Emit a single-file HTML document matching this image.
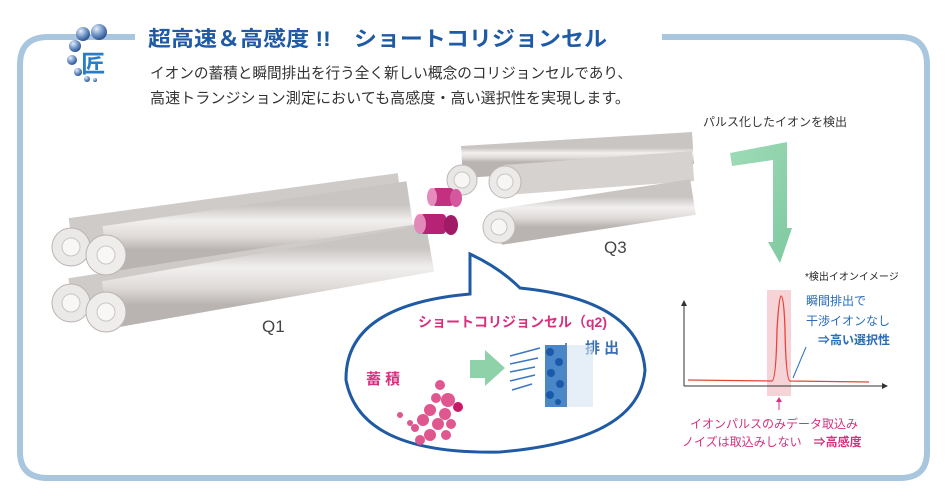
<!DOCTYPE html>
<html><head><meta charset="utf-8"><style>
body{margin:0;width:945px;height:494px;background:#fff;overflow:hidden;font-family:"Liberation Sans","Noto Sans CJK JP",sans-serif}
</style></head><body>
<svg width="945" height="494" viewBox="0 0 945 494" xmlns="http://www.w3.org/2000/svg" font-family="Liberation Sans, Noto Sans CJK JP, sans-serif">
<defs>
<linearGradient id="rod" x1="0" y1="0" x2="0" y2="1"><stop offset="0" stop-color="#c9c5c3"/><stop offset="0.35" stop-color="#f2f0ef"/><stop offset="0.7" stop-color="#dedad8"/><stop offset="1" stop-color="#b9b4b2"/></linearGradient>
<radialGradient id="ball" cx="0.35" cy="0.3" r="0.7"><stop offset="0" stop-color="#e6eef8"/><stop offset="0.5" stop-color="#7d9fcc"/><stop offset="1" stop-color="#2d5597"/></radialGradient>
<linearGradient id="grn" x1="0" y1="0" x2="1" y2="1"><stop offset="0" stop-color="#9fdcb8"/><stop offset="1" stop-color="#7fc9a0"/></linearGradient>
</defs>
<path d="M135 37 H48 Q20 37 20 65 V452 Q20 478 48 478 H900 Q927 478 927 452 V65 Q927 37 900 37 H662" fill="none" stroke="#a8c6de" stroke-width="6"/>
<circle cx="99" cy="32" r="8" fill="url(#ball)"/><circle cx="83" cy="34" r="7" fill="url(#ball)"/><circle cx="75" cy="46" r="6" fill="url(#ball)"/>
<circle cx="72" cy="60" r="5" fill="url(#ball)"/><circle cx="78" cy="72" r="4" fill="url(#ball)"/><circle cx="87" cy="79" r="3" fill="url(#ball)"/><circle cx="95" cy="80" r="2" fill="url(#ball)"/>
<text x="81" y="72" font-size="24" font-weight="bold" fill="#2a7cc4">匠</text>
<text x="148" y="46" font-size="21" font-weight="bold" fill="#1e5aa5" textLength="459" lengthAdjust="spacingAndGlyphs">超高速＆高感度 !!　ショートコリジョンセル</text>
<text x="150" y="78" font-size="14.8" fill="#333" textLength="482" lengthAdjust="spacingAndGlyphs">イオンの蓄積と瞬間排出を行う全く新しい概念のコリジョンセルであり、</text>
<text x="150" y="103" font-size="14.8" fill="#333" textLength="480" lengthAdjust="spacingAndGlyphs">高速トランジション測定においても高感度・高い選択性を実現します。</text>
<g>
<line x1="462" y1="162" x2="693" y2="148" stroke="url(#rod)" stroke-width="32"/>
<line x1="505" y1="180" x2="693" y2="166" stroke="#d6d2d0" stroke-width="30"/>
<line x1="499" y1="227" x2="693" y2="197" stroke="url(#rod)" stroke-width="36"/>
<circle cx="462" cy="180" r="15" fill="#e9e7e6" stroke="#bdb8b6"/><circle cx="462" cy="180" r="8" fill="#f7f6f5" stroke="#c9c5c3"/>
<circle cx="505" cy="182" r="16" fill="#eceae9" stroke="#bdb8b6"/><circle cx="505" cy="182" r="8" fill="#f7f6f5" stroke="#c9c5c3"/>
<circle cx="499" cy="227" r="16" fill="#eceae9" stroke="#bdb8b6"/><circle cx="499" cy="227" r="8" fill="#f7f6f5" stroke="#c9c5c3"/>
</g>
<line x1="71" y1="235" x2="400" y2="190" stroke="#cfcbc9" stroke-width="34"/>
<line x1="106" y1="250" x2="410" y2="205" stroke="url(#rod)" stroke-width="48"/>
<line x1="71" y1="295" x2="425" y2="240" stroke="#cfcbc9" stroke-width="34"/>
<line x1="106" y1="305" x2="430" y2="248" stroke="url(#rod)" stroke-width="48"/>
<circle cx="71" cy="247" r="19" fill="#ebe9e8" stroke="#b9b4b2"/><circle cx="71" cy="247" r="9" fill="#f8f7f6" stroke="#c9c5c3"/>
<circle cx="106" cy="255" r="20" fill="#efedec" stroke="#b9b4b2"/><circle cx="106" cy="255" r="9" fill="#f8f7f6" stroke="#c9c5c3"/>
<circle cx="71" cy="303" r="19" fill="#ebe9e8" stroke="#b9b4b2"/><circle cx="71" cy="303" r="9" fill="#f8f7f6" stroke="#c9c5c3"/>
<circle cx="106" cy="312" r="20" fill="#efedec" stroke="#b9b4b2"/><circle cx="106" cy="312" r="9" fill="#f8f7f6" stroke="#c9c5c3"/>
<rect x="432" y="188" width="22" height="18" rx="4" fill="#c2307f"/><ellipse cx="432" cy="197" rx="5" ry="9" fill="#e58bbd"/><ellipse cx="456" cy="198" rx="6" ry="9" fill="#d4589c"/>
<rect x="420" y="214" width="26" height="20" rx="4" fill="#b62374"/><ellipse cx="420" cy="224" rx="6" ry="10" fill="#e389ba"/><ellipse cx="451" cy="225" rx="7" ry="10" fill="#a01a65"/>
<text x="262" y="332" font-size="17" fill="#444">Q1</text>
<text x="604" y="253" font-size="17" fill="#444">Q3</text>
<path d="M470 254 Q500 268 520 288 Q640 300 645 370 Q640 440 500 452 Q360 455 346 380 Q345 305 470 294 Z" fill="#fff" stroke="#1f5aa3" stroke-width="3"/>
<text x="418" y="327" font-size="14" font-weight="bold" fill="#d6307f">ショートコリジョンセル（q2)</text>
<text x="366" y="384" font-size="15" font-weight="bold" fill="#d6307f">蓄 積</text>
<text x="585" y="353" font-size="15" font-weight="bold" fill="#3b6fb3">排 出</text>
<g fill="#e0578f">
<circle cx="440" cy="385" r="5"/><circle cx="448" cy="400" r="7"/><circle cx="436" cy="398" r="5"/><circle cx="430" cy="410" r="6"/><circle cx="445" cy="414" r="6"/><circle cx="458" cy="407" r="5" fill="#c91a67"/>
<circle cx="423" cy="420" r="6"/><circle cx="438" cy="424" r="6"/><circle cx="451" cy="424" r="5"/><circle cx="415" cy="428" r="4"/><circle cx="430" cy="435" r="6"/><circle cx="420" cy="440" r="5"/><circle cx="400" cy="415" r="3"/><circle cx="410" cy="423" r="3"/><circle cx="446" cy="435" r="5"/>
</g>
<polygon points="470,360 485,360 485,350 505,368 485,386 485,378 470,378" fill="#8fd1a8"/>
<g stroke="#3a78c0" stroke-width="1.5"><line x1="510" y1="356" x2="540" y2="348"/><line x1="510" y1="364" x2="538" y2="358"/><line x1="510" y1="372" x2="535" y2="367"/><line x1="510" y1="381" x2="535" y2="375"/><line x1="512" y1="390" x2="532" y2="384"/></g>
<rect x="545" y="345" width="20" height="62" fill="#2a72c0" opacity="0.85"/>
<g fill="#1a5aa8"><circle cx="550" cy="352" r="4"/><circle cx="559" cy="362" r="4"/><circle cx="551" cy="373" r="4"/><circle cx="560" cy="384" r="4"/><circle cx="550" cy="395" r="4"/><circle cx="558" cy="402" r="3"/></g>
<rect x="565" y="345" width="28" height="62" fill="#d6e5f4" opacity="0.6"/>
<line x1="566" y1="343" x2="566" y2="407" stroke="#2a5ea0" stroke-width="1.5"/>
<polygon points="730,153 787,142 787,228 792,228 780,263 768,242 773,242 773,160 732,166" fill="url(#grn)"/>
<text x="703" y="126" font-size="12" fill="#333">パルス化したイオンを検出</text>
<text x="805" y="280" font-size="10" fill="#222">*検出イオンイメージ</text>
<rect x="767" y="290" width="24" height="106" fill="#f6d3d6"/>
<line x1="684" y1="386" x2="882" y2="386" stroke="#333" stroke-width="1"/><polygon points="882,383 888,386 882,389" fill="#333"/>
<line x1="684" y1="386" x2="684" y2="306" stroke="#333" stroke-width="1"/><polygon points="681,306 684,300 687,306" fill="#333"/>
<path d="M688 380 L772 381 Q776 380 777 330 Q779 296 781 296 Q784 296 785 330 Q786 380 790 381 L869 382" fill="none" stroke="#e8443a" stroke-width="1.3"/>
<line x1="806" y1="347" x2="793" y2="378" stroke="#2a72c0" stroke-width="1"/>
<text x="806" y="305" font-size="12" fill="#2a6cb8">瞬間排出で</text>
<text x="806" y="325" font-size="12" fill="#2a6cb8">干渉イオンなし</text>
<text x="818" y="344" font-size="12" font-weight="bold" fill="#2a6cb8">⇒高い選択性</text>
<line x1="779" y1="398" x2="779" y2="410" stroke="#d6307f"/><polygon points="776,402 779,397 782,402" fill="#d6307f"/>
<text x="690" y="428" font-size="12" fill="#d6307f">イオンパルスのみデータ取込み</text>
<text x="682" y="446" font-size="12" fill="#d6307f">ノイズは取込みしない　<tspan font-weight="bold">⇒高感度</tspan></text>
</svg>
</body></html>
